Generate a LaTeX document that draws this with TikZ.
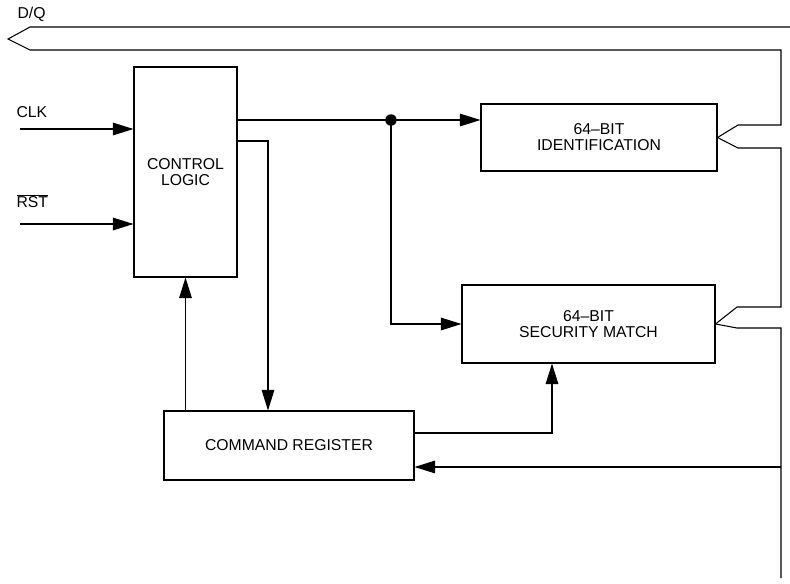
\documentclass[tikz,border=0pt]{standalone}
\usepackage{fontspec}
\setmainfont{Liberation Sans}
\usetikzlibrary{positioning, calc, arrows.meta}

\begin{document}
\begin{tikzpicture}[x=0.75pt, y=-0.75pt, line width=0.8pt,
    font=\fontsize{11.8}{12}\selectfont,
    blockbox/.style={draw, rectangle, align=center, inner sep=0pt},
    sig/.style={-{Triangle[length=15.5pt, width=9.5pt]}}]
  \useasboundingbox (0,0) rectangle (790,583);

  % Blocks
  \node[blockbox, minimum width=77.25pt, minimum height=157.5pt] (ctrl) at (185.5,172) {CONTROL\\LOGIC};
  \node[blockbox, minimum width=177pt, minimum height=50.25pt] (ident) at (599,137.5) {64–BIT\\IDENTIFICATION};
  \node[blockbox, minimum width=189.75pt, minimum height=58.5pt] (secmatch) at (588.5,324) {64–BIT\\SECURITY MATCH};
  \node[blockbox, minimum width=187.5pt, minimum height=51.75pt] (cmdreg) at (289,445.5) {COMMAND REGISTER};

  % Inputs
  \node[anchor=west, inner sep=0pt] (clklbl) at (16,112) {CLK};
  \node[anchor=west, inner sep=0pt] (rstlbl) at (16,201) {$\overline{\mbox{RST}}$};
  \node[anchor=west, inner sep=0pt] (dqlbl) at (17,14) {D/Q};
  \coordinate (clkin) at (20,129);
  \coordinate (rstin) at (20,224);
  \draw[sig] (clkin) -- (clkin -| ctrl.west);
  \draw[sig] (rstin) -- (rstin -| ctrl.west);

  % Internal connections
  \coordinate (split) at (391,120);
  \coordinate (cmdtap) at (268,141);
  \coordinate (smup) at (552,433);
  \draw (split -| ctrl.east) -- (split);
  \draw[sig] (split) -- (split -| ident.west);
  \draw[sig] (split) |- (secmatch.west);
  \fill (split) circle (4.3pt);
  \draw[sig] (cmdtap -| ctrl.east) -- (cmdtap) -- (cmdtap |- cmdreg.north);
  \draw[sig] (cmdreg.north -| ctrl.south) -- (ctrl.south);
  \draw[sig] (smup -| cmdreg.east) -- (smup) -- (smup |- secmatch.south);

  % D/Q bus
  \draw (790,27) -- (30,27) -- (8,39) -- (30,50) -- (781,50) -- (781,125) -- (738,125)
    -- (ident.east) -- (738,148) -- (781,148) -- (781,307) -- (737,307)
    -- (secmatch.east) -- (737,328) -- (781,328) -- (781,578);
  \coordinate (busout) at (781,467);
  \draw[sig] (busout) -- (busout -| cmdreg.east);
\end{tikzpicture}
\end{document}
